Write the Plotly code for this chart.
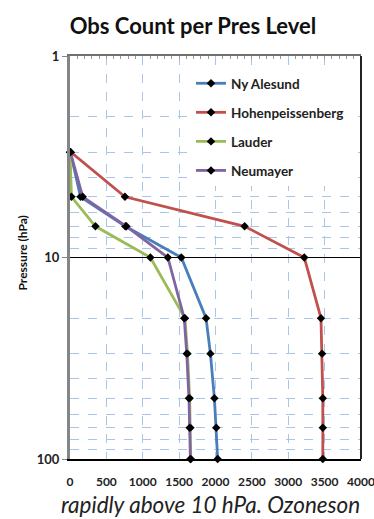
import plotly.graph_objects as go

# Pressure levels (hPa) and observation counts per station
levels = [3, 5, 7, 10, 20, 30, 50, 70, 100]
ny_alesund = [5, 145, 760, 1530, 1870, 1930, 1985, 2010, 2030]
hohenpeissenberg = [10, 755, 2400, 3220, 3450, 3465, 3475, 3475, 3475]
lauder = [0, 20, 350, 1105, 1580, 1615, 1645, 1655, 1660]
neumayer = [5, 175, 775, 1345, 1570, 1605, 1635, 1645, 1655]

series = [
    ("Ny Alesund", ny_alesund, "#4a7ebb"),
    ("Hohenpeissenberg", hohenpeissenberg, "#c0504d"),
    ("Lauder", lauder, "#9bbb59"),
    ("Neumayer", neumayer, "#8064a2"),
]

x_ticks = [0, 500, 1000, 1500, 2000, 2500, 3000, 3500, 4000]
y_ticks = [1, 10, 100]
minor_p = [m * d for d in (1, 10) for m in range(2, 10)]

FONT = "Lato"
GRID = "#a9c5e8"

fig = go.Figure()
for name, vals, color in series:
    fig.add_trace(go.Scatter(
        x=vals, y=levels, name=name, mode="lines+markers",
        line=dict(color=color, width=2.8),
        marker=dict(symbol="diamond", size=6.5, color="black"),
        cliponaxis=False, legendgroup=name,
    ))

fig.update_layout(
    width=374, height=519,
    margin=dict(l=70, r=13, t=56, b=60),
    paper_bgcolor="white", plot_bgcolor="white",
    font=dict(family=FONT, color="#1a1a1a"),
    title=dict(text="Obs Count per Pres Level", x=0.516, xanchor="center",
               y=1 - 26 / 519, yanchor="middle",
               font=dict(family=FONT, size=22, weight="bold", color="#111")),
    showlegend=True,
    legend=dict(x=(191 - 70) / 291, y=(459 - 68) / 403, xanchor="left", yanchor="top",
                bgcolor="white", borderwidth=0, traceorder="grouped", tracegroupgap=8.5,
                font=dict(family=FONT, size=13.5, weight="bold", color="#222")),
    xaxis=dict(range=[0, 4000], tickvals=x_ticks, ticktext=[str(v) for v in x_ticks],
               showgrid=True, gridcolor=GRID, griddash="dash", gridwidth=1,
               zeroline=False, showline=True, linecolor="black", linewidth=2,
               ticks="", ticklabelstandoff=11, ticklabeloverflow="allow", automargin=False,
               tickfont=dict(family=FONT, size=12, weight="bold", color="#222")),
    xaxis2=dict(range=[0, 4000], overlaying="x", side="top", showgrid=False,
                zeroline=False, showticklabels=False, showline=True, automargin=False,
                linecolor="#707070", linewidth=1.5, ticks="",
                minor=dict(dtick=100, ticks="inside", ticklen=3, tickcolor="#999", tickwidth=1)),
    yaxis=dict(type="log", range=[2, 0], tickvals=y_ticks, ticktext=["1", "10", "100"],
               showgrid=False, zeroline=False, showline=True, linecolor="#858585", linewidth=3,
               ticks="outside", ticklen=5, tickcolor="#858585", automargin=False,
               tickfont=dict(family=FONT, size=13, weight="bold", color="#222"),
               minor=dict(tickvals=minor_p, showgrid=True, gridcolor=GRID, griddash="dash",
                          gridwidth=1, ticks="")),
)

# invisible point that keeps the top axis drawn
fig.add_trace(go.Scatter(x=[0], y=[1], xaxis="x2", mode="markers",
                         marker=dict(opacity=0), showlegend=False, hoverinfo="skip"))

# 10 hPa reference line and right frame edge
fig.add_shape(type="line", xref="paper", yref="paper", x0=0, x1=1, y0=0.5, y1=0.5,
              line=dict(color="black", width=1.2), layer="above")
fig.add_shape(type="line", xref="paper", yref="paper", x0=1, x1=1, y0=0, y1=1,
              line=dict(color="#222", width=2), layer="above")

fig.add_annotation(text="Pressure (hPa)", textangle=-90, xref="paper", yref="paper",
                   x=(22 - 70) / 291, y=0.51, xanchor="center", yanchor="middle",
                   showarrow=False, font=dict(family=FONT, size=12, weight="bold", color="#111"))

fig.add_annotation(text="<i>rapidly above 10 hPa. Ozoneson</i>", xref="paper", yref="paper",
                   x=(61 - 70) / 291, y=(459 - 518) / 403, xanchor="left", yanchor="bottom",
                   borderpad=0, borderwidth=0,
                   showarrow=False, font=dict(family=FONT, size=22.5, color="#222"))

fig.write_html("out.html")
